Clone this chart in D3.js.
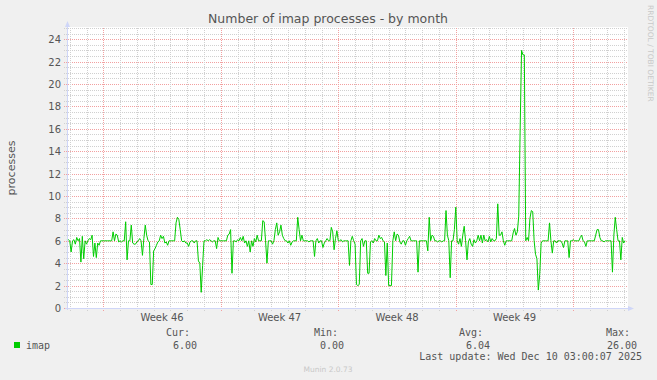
<!DOCTYPE html>
<html>
<head>
<meta charset="utf-8">
<script src="https://cdn.jsdelivr.net/npm/d3@7/dist/d3.min.js"></script>
<style>
  html, body { margin: 0; padding: 0; background: #f0f0f0; }
  svg { display: block; }
  text { font-family: "DejaVu Sans", sans-serif; fill: #555; }
  .mono { font-family: "DejaVu Sans Mono", monospace; font-size: 10px; }
</style>
</head>
<body>
<svg id="chart"></svg>
<script>
// imap process count, one value every 2 hours (munin month view)
const seriesName = 'imap';
const seriesStart = Date.UTC(2025, 10, 6, 20, 0);
const stepHours = 2;
const imapValues = [
  6.1,6.1,6.0,5.0,6.0,6.1,5.7,6.3,6.0,6.2, 4.1,6.4,4.4,6.0,5.7,6.0,6.2,6.1,6.5,4.6,
  5.8,4.5,5.8,5.6,6.0,6.0,6.0,6.0,6.0,6.0, 6.0,6.0,6.0,6.8,6.0,6.6,6.5,5.9,6.0,5.9,
  6.0,6.0,7.7,4.3,6.0,6.0,7.4,5.8,5.7,5.7, 5.9,6.0,6.2,6.0,4.7,6.2,7.4,6.5,6.0,5.9,
  2.1,2.1,5.1,5.3,5.6,5.9,6.0,6.5,6.2,6.4, 5.8,5.9,5.6,6.0,6.0,6.0,6.0,6.0,7.6,8.1,
  7.9,7.0,6.0,5.9,6.0,5.8,5.8,5.5,5.9,6.0, 6.0,5.8,6.0,6.0,4.2,4.0,1.4,3.8,6.0,6.0,
  6.1,6.0,6.1,6.0,5.9,6.0,6.0,5.3,6.3,6.0, 6.0,6.0,6.0,6.0,6.0,6.5,6.6,7.0,3.1,6.0,
  6.0,5.9,6.1,6.0,6.3,6.0,6.4,5.8,6.0,5.5, 6.0,5.0,6.0,5.5,6.2,5.9,6.5,6.0,6.0,6.0,
  7.8,7.7,6.0,4.0,6.0,6.0,6.0,5.7,6.0,7.0, 7.6,6.5,6.8,7.4,6.5,6.2,6.0,6.0,5.8,6.0,
  5.6,5.9,6.0,6.0,6.0,8.1,7.0,6.0,6.5,6.0, 6.0,6.0,6.0,5.9,6.0,6.0,6.0,4.6,6.0,6.2,
  5.8,6.0,6.0,5.4,5.8,6.0,6.2,6.0,6.0,7.2, 6.8,5.2,6.2,6.9,6.0,6.0,6.1,5.9,6.0,6.0,
  6.0,6.0,3.8,6.0,6.4,6.0,5.7,2.1,2.0,2.1, 6.0,6.2,5.5,6.0,6.0,3.1,3.1,5.9,6.0,5.8,
  6.2,6.0,6.0,6.5,6.2,6.3,6.0,5.9,2.9,5.8, 2.0,2.0,2.0,6.0,6.8,6.0,6.6,6.5,5.9,5.7,
  6.0,6.0,5.6,6.0,6.2,6.4,6.0,6.0,6.0,6.0, 6.0,3.2,6.0,6.0,6.0,6.0,6.0,6.0,5.1,8.1,
  6.0,6.5,6.4,6.0,6.0,5.9,6.0,6.0,5.9,6.0, 6.0,8.7,6.5,6.0,2.7,6.0,6.0,7.0,9.0,6.0,
  5.7,6.2,5.5,6.5,7.3,6.0,4.3,5.9,6.2,5.7, 5.5,6.1,5.8,6.0,6.5,6.0,6.5,5.8,6.5,6.0,
  6.1,5.9,6.4,5.9,6.2,6.0,6.0,6.2,9.3,6.5, 6.5,6.8,6.0,5.6,6.0,6.0,6.0,6.0,6.0,6.7,
  7.1,6.5,6.8,8.2,15.9,23.0,22.6,22.6,6.0,6.3, 6.0,8.0,8.7,8.6,6.0,4.8,4.4,1.6,3.0,5.8,
  6.0,6.0,6.0,6.0,6.0,7.6,6.0,4.9,6.0,6.0, 5.8,6.0,6.0,6.0,5.8,5.4,6.0,6.0,6.0,4.5,
  6.0,6.0,6.1,6.0,6.0,6.0,6.0,6.3,6.5,6.0, 5.9,5.5,6.0,6.0,6.0,6.0,6.0,6.0,6.5,7.0,
  7.0,6.3,6.0,6.0,5.9,6.0,6.0,6.0,6.0,6.0, 3.2,6.5,8.1,7.0,6.0,6.0,4.3,6.3,5.8,6.0
];

const viewStart = Date.UTC(2025, 10, 6, 20, 6);
const viewEnd = Date.UTC(2025, 11, 10, 6, 13);
const yMax = 25;
const yTicks = [0, 2, 4, 6, 8, 10, 12, 14, 16, 18, 20, 22, 24];
const weekStarts = ['2025-11-09', '2025-11-16', '2025-11-23', '2025-11-30'];
const weekLabels = ['Week 46', 'Week 47', 'Week 48', 'Week 49'];

const legendHeads = ['Cur:', 'Min:', 'Avg:', 'Max:'];
const legendValues = ['6.00', '0.00', '6.04', '26.00'];
const lastUpdate = 'Last update: Wed Dec 10 03:00:07 2025';

const width = 657, height = 380;
const plot = { left: 67, right: 628, top: 28, bottom: 308 };
const axisColor = '#cfd6f8';
const lineColor = '#00cc00';
const minorColor = '#d0d0d0';
const majorColor = '#f2a0a0';

const svg = d3.select('#chart').attr('width', width).attr('height', height);

svg.append('rect').attr('width', width).attr('height', height).attr('fill', '#f0f0f0');

const x = d3.scaleUtc().domain([new Date(viewStart), new Date(viewEnd)]).range([plot.left, plot.right]);
const y = d3.scaleLinear().domain([0, yMax]).range([plot.bottom, plot.top]);

// canvas
svg.append('rect')
    .attr('x', plot.left).attr('y', plot.top - 1)
    .attr('width', plot.right - plot.left).attr('height', plot.bottom - plot.top + 1)
    .attr('fill', '#fff');

const grid = svg.append('g').attr('shape-rendering', 'crispEdges');

const days = d3.utcDay.range(x.domain()[0], x.domain()[1]);
const sundays = d3.utcSunday.range(x.domain()[0], x.domain()[1]);
const isSunday = d => sundays.some(s => +s === +d);

// horizontal grid, same start so the dots line up
grid.selectAll('.hgrid')
    .data(d3.range(0, yMax + 0.01, 0.5))
    .enter().append('line')
    .attr('x1', plot.left - 3).attr('x2', plot.right)
    .attr('y1', d => Math.round(y(d)) + 0.5).attr('y2', d => Math.round(y(d)) + 0.5)
    .attr('stroke', d => yTicks.includes(d) ? majorColor : minorColor)
    .attr('stroke-dasharray', '1,1');

// vertical grid: days, sundays in red
grid.selectAll('.vgrid')
    .data(days)
    .enter().append('line')
    .attr('x1', d => Math.round(x(d)) + 0.5).attr('x2', d => Math.round(x(d)) + 0.5)
    .attr('y1', plot.top).attr('y2', plot.bottom + 3)
    .attr('stroke', d => isSunday(d) ? majorColor : minorColor)
    .attr('stroke-dasharray', '1,1');

// series
const points = imapValues.map((v, i) => ({ t: new Date(seriesStart + i * stepHours * 3600e3), v: v }));
const line = d3.line().x(d => x(d.t)).y(d => y(d.v));
svg.append('path')
    .datum(points)
    .attr('d', line)
    .attr('fill', 'none')
    .attr('stroke', lineColor)
    .attr('stroke-width', 1);

// axes with arrows
const ax = svg.append('g').attr('shape-rendering', 'crispEdges');
ax.append('line')
    .attr('x1', plot.left + 0.5).attr('x2', plot.left + 0.5)
    .attr('y1', plot.bottom + 2).attr('y2', plot.top - 5)
    .attr('stroke', axisColor);
ax.append('line')
    .attr('x1', plot.left - 2).attr('x2', plot.right + 4)
    .attr('y1', Math.round(y(0)) + 0.5).attr('y2', Math.round(y(0)) + 0.5)
    .attr('stroke', axisColor);
svg.append('path')
    .attr('d', `M${plot.left - 2},${plot.top - 1}L${plot.left + 0.5},${plot.top - 7}L${plot.left + 3},${plot.top - 1}Z`)
    .attr('fill', axisColor);
svg.append('path')
    .attr('d', `M${plot.right},${y(0) - 2}L${plot.right + 6},${y(0) + 0.5}L${plot.right},${y(0) + 3}Z`)
    .attr('fill', axisColor);

// y labels
svg.selectAll('.ylab')
    .data(yTicks)
    .enter().append('text')
    .attr('x', 61)
    .attr('y', d => y(d) + 4)
    .attr('text-anchor', 'end')
    .style('font-size', '10px')
    .text(d => d);

// week labels, centred in each week
svg.selectAll('.xlab')
    .data(weekStarts)
    .enter().append('text')
    .attr('x', d => x(d3.utcHour.offset(new Date(d + 'T00:00:00Z'), 84)))
    .attr('y', 320.5)
    .attr('text-anchor', 'middle')
    .style('font-size', '10px')
    .text((d, i) => weekLabels[i]);

// title + side texts
svg.append('text')
    .attr('x', 328).attr('y', 23)
    .attr('text-anchor', 'middle')
    .style('font-size', '12.5px')
    .text('Number of imap processes - by month');

svg.append('text')
    .attr('transform', 'translate(15,168) rotate(-90)')
    .attr('text-anchor', 'middle')
    .style('font-size', '11px')
    .text('processes');

svg.append('text')
    .attr('transform', 'translate(647.5,5) rotate(90)')
    .style('font-size', '7.5px')
    .style('fill', '#c8c8c8')
    .text('RRDTOOL / TOBI OETIKER');

// legend
svg.append('rect')
    .attr('x', 14).attr('y', 342).attr('width', 6).attr('height', 6)
    .attr('fill', lineColor);
svg.append('text').attr('class', 'mono').attr('x', 26).attr('y', 349).text(seriesName);

const headRight = [190, 338, 483, 630];
const valueRight = [197, 344, 490, 637];
legendHeads.forEach((h, i) => {
    svg.append('text').attr('class', 'mono')
        .attr('x', headRight[i]).attr('y', 336)
        .attr('text-anchor', 'end').text(h);
    svg.append('text').attr('class', 'mono')
        .attr('x', valueRight[i]).attr('y', 349)
        .attr('text-anchor', 'end').text(legendValues[i]);
});
svg.append('text').attr('class', 'mono')
    .attr('x', 642).attr('y', 360)
    .attr('text-anchor', 'end').text(lastUpdate);

svg.append('text')
    .attr('x', 328).attr('y', 372)
    .attr('text-anchor', 'middle')
    .style('font-size', '7.5px')
    .style('fill', '#c8c8c8')
    .text('Munin 2.0.73');
</script>
</body>
</html>
